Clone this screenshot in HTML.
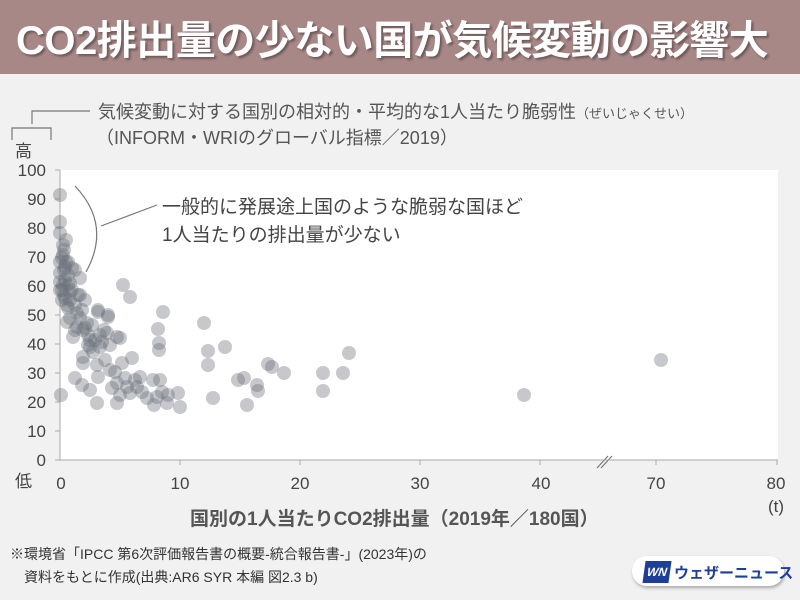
<!DOCTYPE html>
<html><head><meta charset="utf-8"><style>
body{margin:0;width:800px;height:600px;background:#f1f1f1;overflow:hidden;font-family:"Liberation Sans","Noto Sans CJK JP",sans-serif;position:relative;color:#444}
.banner{position:absolute;left:0;top:0;width:800px;height:74px;background:#a88787;}
.banner div{position:absolute;left:16px;top:8px;font-size:40px;font-weight:bold;color:#fff;letter-spacing:-0.5px;text-shadow:2px 2px 2px rgba(0,0,0,.35);white-space:nowrap}
.t{position:absolute;white-space:nowrap}
</style></head><body>
<div class="banner"><div>CO2排出量の少ない国が気候変動の影響大</div></div>
<div class="t" style="left:98px;top:98px;font-size:18px;color:#555">気候変動に対する国別の相対的・平均的な1人当たり脆弱性<span style="font-size:13px">（ぜいじゃくせい）</span></div>
<div class="t" style="left:96px;top:124px;font-size:18px;color:#555">（INFORM・WRIのグローバル指標／2019）</div>
<svg width="800" height="600" style="position:absolute;left:0;top:0">
<rect x="60" y="170" width="718" height="290" fill="#fff"/>
<g stroke="#777" fill="none" stroke-width="1.2">
<path d="M90 111H32V124"/><path d="M12 140V128H51V140"/>
<path d="M75 186Q112 225 86 272"/><path d="M101 226L157 205"/>
<path d="M597 468L608 456M601 468L612 456"/>
</g>
<g stroke="#aaa" stroke-width="1" fill="none"><path d="M60 170V460H778"/>
<path d="M55 170H60M55 199H60M55 228H60M55 257H60M55 286H60M55 315H60M55 344H60M55 373H60M55 402H60M55 431H60M55 460H60"/>
<path d="M180 460V465M300 460V465M420 460V465M540 460V465M656 460V465M777 460V465"/></g>
<g fill="rgb(105,110,122)" fill-opacity="0.38" id="pts"></g>
<g font-size="17" fill="#444" text-anchor="end">
<text x="46" y="176">100</text><text x="46" y="205">90</text><text x="46" y="234">80</text><text x="46" y="263">70</text><text x="46" y="292">60</text><text x="46" y="321">50</text><text x="46" y="350">40</text><text x="46" y="379">30</text><text x="46" y="408">20</text><text x="46" y="437">10</text><text x="46" y="466">0</text></g>
<g font-size="17" fill="#444" text-anchor="middle">
<text x="61" y="489">0</text><text x="180" y="489">10</text><text x="300" y="489">20</text><text x="420" y="489">30</text><text x="541" y="489">40</text><text x="656" y="489">70</text><text x="776" y="489">80</text><text x="776" y="512">(t)</text></g>
</svg>
<div class="t" style="left:15px;top:137px;font-size:17px">高</div>
<div class="t" style="left:15px;top:467px;font-size:17px">低</div>
<div class="t" style="left:162px;top:192px;font-size:19px;color:#444">一般的に発展途上国のような脆弱な国ほど</div>
<div class="t" style="left:162px;top:220px;font-size:19px;color:#444">1人当たりの排出量が少ない</div>
<div class="t" style="left:190px;top:504px;font-size:19px;font-weight:bold;color:#555">国別の1人当たりCO2排出量（2019年／180国）</div>
<div class="t" style="left:10px;top:544px;font-size:14px;color:#333">※環境省「IPCC 第6次評価報告書の概要-統合報告書-」(2023年)の</div>
<div class="t" style="left:24px;top:567px;font-size:14px;color:#333">資料をもとに作成(出典:AR6 SYR 本編 図2.3 b)</div>
<div style="position:absolute;left:632px;top:556px;width:152px;height:30px;border-radius:15px;background:#fff;box-shadow:1px 2px 3px rgba(0,0,0,.3)"></div>
<div style="position:absolute;left:644px;top:561px;width:26px;height:22px;background:#1d3f9a;transform:skewX(-8deg);color:#fff;font-size:12px;font-weight:bold;font-style:italic;line-height:22px;text-align:center">WN</div>
<div class="t" style="left:674px;top:562px;font-size:15px;font-weight:bold;color:#1d3f9a">ウェザーニュース</div>
<script>
var P=[[204,323],[208,351],[208,365],[225,347],[213,398],[238,380],[244,378],[257,385],[258,391],[268,364],[272,367],[284,373],[323,373],[343,373],[349,353],[323,391],[247,405],[524,395],[661,360],
[123,285],[130,297],[163,312],[158,329],[159,343],[159,350],[61,395],[75,378],[97,403],[117,403],[90,390],[82,385],[98,377],[110,370],[117,383],[127,387],[122,363],[132,358],[140,377],[137,387],[147,398],[157,397],[167,403],[178,393],[180,407],[168,395],[153,380],[160,380],[83,363],[83,357],[90,347],[100,347],[107,333],[117,337],[120,338],[108,317],[98,312],[77,313],[67,305],[67,322],[77,327],[73,337],[83,330],[90,340],[93,352],[87,323],[60,290],[70,300],[80,295],[60,282],
[60,195],[60,222],[60,233],[63,245],[63,255],[60,262],[65,267],[72,268],[60,273],[75,270],[80,278],[65,280],[70,283],[62,290],[78,295],[65,298],[82,310],[98,310],[108,315],[68,308],
[64,250],[62,258],[66,262],[68,275],[63,285],[72,290],[75,305],[80,318],[85,328],[88,335],[95,340],[102,342],[110,345],[115,372],[125,378],[130,393],[120,395],[105,360],[97,365],[70,318],[62,300],[66,240],[70,292],[85,300],[92,325],[104,330],[112,388],[135,380],[142,392],[162,392],[154,405],
[64,270],[68,285],[75,330],[88,345],[100,335],[68,262],[64,295]];
var g=document.getElementById('pts'),s='';
P.forEach(function(p){s+='<circle cx="'+p[0]+'" cy="'+p[1]+'" r="7"/>';});
g.innerHTML=s;
</script>
</body></html>
